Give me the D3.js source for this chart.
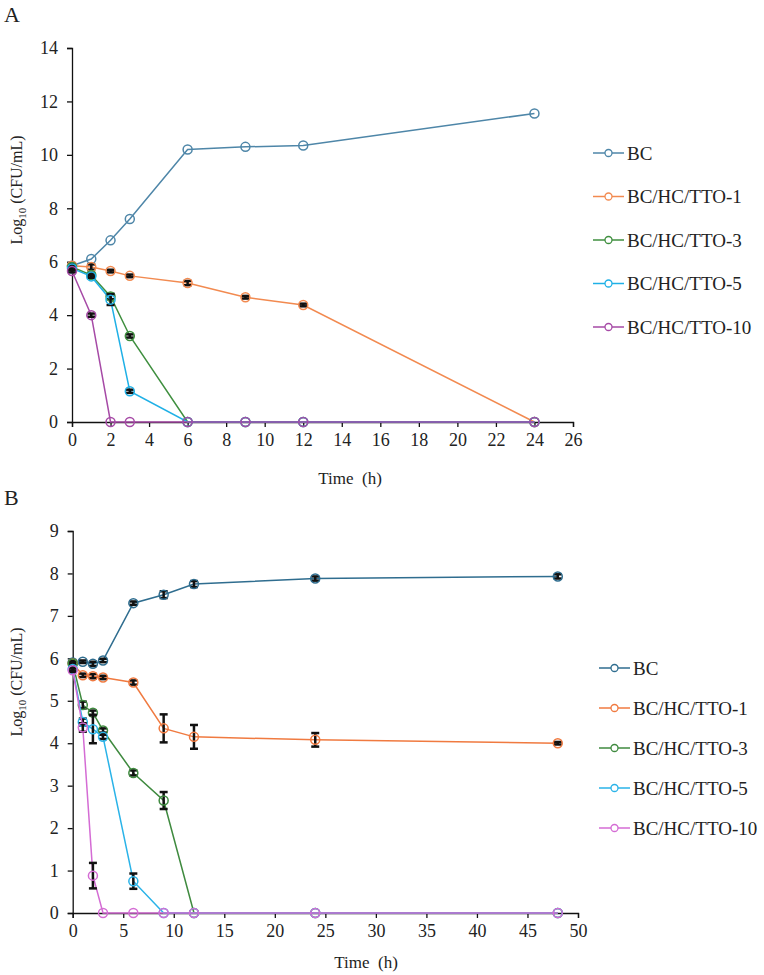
<html>
<head>
<script src="https://cdn.jsdelivr.net/npm/d3@7"></script>
<style>
  body { margin: 0; background: #fff; }
  text { font-family: "Liberation Serif", "Times New Roman", serif; fill: #222; }
</style>
</head>
<body>
<div id="chart"></div>
<script>
// series names + colours
const seriesNames = ["BC", "BC/HC/TTO-1", "BC/HC/TTO-3", "BC/HC/TTO-5", "BC/HC/TTO-10"];
const colorsA = ["#4e86a8", "#f28a50", "#3f8f3f", "#1fb0e6", "#a64aa6"];
const colorsB = ["#2f6d8f", "#f07a40", "#3f8a3f", "#2ab3e8", "#d46cd4"];

// panel A
const timesA = [0, 1, 2, 3, 6, 9, 12, 24];
const bcA = [5.85, 6.1, 6.8, 7.6, 10.2, 10.3, 10.35, 11.55];
const tto1A = [5.85, 5.8, 5.65, 5.47, 5.2, 4.67, 4.38, 0];
const tto3A = [5.8, 5.5, 4.7, 3.22, 0, 0, 0, 0];
const tto5A = [5.75, 5.45, 4.58, 1.15, 0, 0, 0, 0];
const tto10A = [5.65, 4.0, 0, 0, 0, 0, 0, 0];
const errBcA = [0.05, 0, 0, 0, 0, 0, 0, 0];
const errTto1A = [0.08, 0.1, 0.05, 0.05, 0.08, 0.05, 0.05, 0];
const errTto3A = [0.05, 0.08, 0.1, 0.06, 0, 0, 0, 0];
const errTto5A = [0.05, 0.05, 0.2, 0.06, 0, 0, 0, 0];
const errTto10A = [0.05, 0.06, 0, 0, 0, 0, 0, 0];

// panel B
const timesB = [0, 1, 2, 3, 6, 9, 12, 24, 48];
const bcB = [5.9, 5.92, 5.87, 5.95, 7.3, 7.5, 7.75, 7.88, 7.93];
const tto1B = [5.88, 5.6, 5.58, 5.55, 5.43, 4.35, 4.15, 4.08, 4.0];
const tto3B = [5.88, 4.9, 4.72, 4.3, 3.3, 2.65, 0, 0, 0];
const tto5B = [5.75, 4.5, 4.33, 4.15, 0.75, 0, 0, 0, 0];
const tto10B = [5.72, 4.37, 0.88, 0, 0, 0, 0, 0, 0];
const errBcB = [0.03, 0.03, 0.05, 0.04, 0.04, 0.08, 0.07, 0.05, 0.05];
const errTto1B = [0.04, 0.04, 0.05, 0.04, 0.05, 0.33, 0.28, 0.16, 0.03];
const errTto3B = [0.04, 0.08, 0.05, 0.05, 0.06, 0.2, 0, 0, 0];
const errTto5B = [0.04, 0.08, 0.33, 0.05, 0.18, 0, 0, 0, 0];
const errTto10B = [0.04, 0.1, 0.3, 0, 0, 0, 0, 0, 0];

const svg = d3.select("#chart").append("svg").attr("width", 764).attr("height", 975);

function drawPanel(cfg) {
  let x = d3.scaleLinear().domain(cfg.xDomain).range(cfg.xRange);
  let y = d3.scaleLinear().domain(cfg.yDomain).range(cfg.yRange);

  let g = svg.append("g");

  // panel letter
  g.append("text").attr("x", 4).attr("y", cfg.letterY)
    .style("font-size", "22px").text(cfg.letter);

  // axes
  let xAxis = d3.axisBottom(x).tickValues(cfg.xTicks).tickSize(5).tickPadding(6).tickFormat(d3.format("d"));
  let yAxis = d3.axisLeft(y).tickValues(cfg.yTicks).tickSize(5).tickPadding(9).tickFormat(d3.format("d"));

  let xg = g.append("g").attr("transform", "translate(0," + cfg.yRange[0] + ")").call(xAxis);
  let yg = g.append("g").attr("transform", "translate(" + cfg.xRange[0] + ",0)").call(yAxis);
  [xg, yg].forEach(a => {
    a.selectAll("path,line").attr("stroke", "#111").attr("stroke-width", 1.3);
    a.selectAll("text").style("font-size", "18px").attr("fill", "#222");
  });

  // axis titles
  g.append("text").attr("x", cfg.xTitleX).attr("y", cfg.xTitleY)
    .attr("text-anchor", "middle").style("font-size", "17px")
    .style("white-space", "pre").attr("xml:space", "preserve").text("Time  (h)");

  let yt = g.append("text")
    .attr("transform", "translate(22," + cfg.yTitleY + ") rotate(-90)")
    .attr("text-anchor", "middle").style("font-size", "16px");
  yt.append("tspan").text("Log");
  yt.append("tspan").attr("dy", 4).style("font-size", "11px").text("10");
  yt.append("tspan").attr("dy", -4).text(" (CFU/mL)");

  let line = d3.line().x(d => x(d.t)).y(d => y(d.v));

  cfg.series.forEach((s, i) => {
    let pts = cfg.times.map((t, j) => ({ t: t, v: s[j], e: cfg.errs[i][j] }));
    let c = cfg.colors[i];
    g.append("path").datum(pts).attr("d", line)
      .attr("fill", "none").attr("stroke", c).attr("stroke-width", 1.5);

    // error bars
    let eb = g.append("g").selectAll("g").data(pts.filter(d => d.e > 0)).enter().append("g");
    eb.append("line").attr("x1", d => x(d.t)).attr("x2", d => x(d.t))
      .attr("y1", d => y(d.v - d.e)).attr("y2", d => y(d.v + d.e))
      .attr("stroke", "#111").attr("stroke-width", 2.5);
    eb.append("line").attr("x1", d => x(d.t) - 4).attr("x2", d => x(d.t) + 4)
      .attr("y1", d => y(d.v - d.e)).attr("y2", d => y(d.v - d.e))
      .attr("stroke", "#111").attr("stroke-width", 2.5);
    eb.append("line").attr("x1", d => x(d.t) - 4).attr("x2", d => x(d.t) + 4)
      .attr("y1", d => y(d.v + d.e)).attr("y2", d => y(d.v + d.e))
      .attr("stroke", "#111").attr("stroke-width", 2.5);

    g.append("g").selectAll("circle").data(pts).enter().append("circle")
      .attr("cx", d => x(d.t)).attr("cy", d => y(d.v)).attr("r", 4.5)
      .attr("fill", "none").attr("stroke", c).attr("stroke-width", 1.5);

    // legend
    let ly = cfg.legendY + i * cfg.legendStep;
    g.append("line").attr("x1", cfg.legendX).attr("x2", cfg.legendX + 31)
      .attr("y1", ly).attr("y2", ly).attr("stroke", c).attr("stroke-width", 1.5);
    g.append("circle").attr("cx", cfg.legendX + 15.5).attr("cy", ly).attr("r", 3.5)
      .attr("fill", "#fff").attr("stroke", c).attr("stroke-width", 1.3);
    g.append("text").attr("x", cfg.legendX + 34).attr("y", ly + 6.5)
      .style("font-size", "19px").text(seriesNames[i]);
  });
}

drawPanel({
  letter: "A", letterY: 22,
  xDomain: [0, 26], xRange: [72, 573], yDomain: [0, 14], yRange: [422, 48],
  xTicks: d3.range(0, 27, 2), yTicks: d3.range(0, 15, 2),
  xTitleX: 350, xTitleY: 484, yTitleY: 190,
  times: timesA,
  series: [bcA, tto1A, tto3A, tto5A, tto10A],
  errs: [errBcA, errTto1A, errTto3A, errTto5A, errTto10A],
  colors: colorsA,
  legendX: 593, legendY: 153, legendStep: 43.5
});

drawPanel({
  letter: "B", letterY: 505,
  xDomain: [0, 50], xRange: [72.7, 578], yDomain: [0, 9], yRange: [913, 531],
  xTicks: d3.range(0, 51, 5), yTicks: d3.range(0, 10, 1),
  xTitleX: 366, xTitleY: 968, yTitleY: 682,
  times: timesB,
  series: [bcB, tto1B, tto3B, tto5B, tto10B],
  errs: [errBcB, errTto1B, errTto3B, errTto5B, errTto10B],
  colors: colorsB,
  legendX: 599, legendY: 668, legendStep: 40
});
</script>
</body>
</html>
